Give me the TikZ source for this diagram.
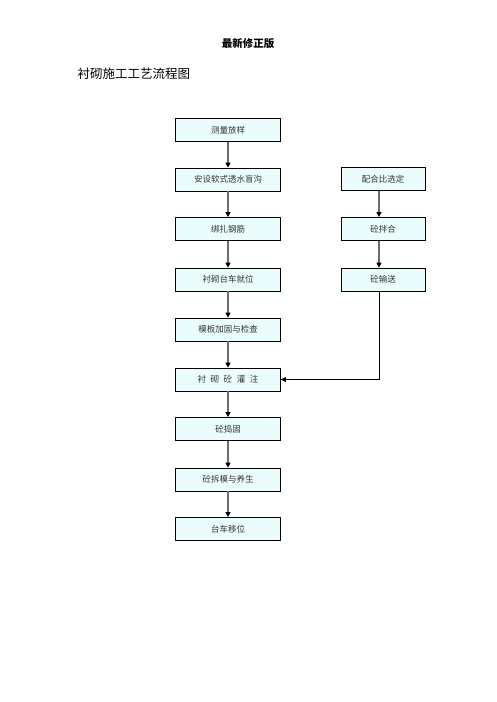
\documentclass[tikz,border=0pt]{standalone}
\usepackage{fontspec}
\setmainfont{Liberation Serif}
\newfontfamily\cjk{Noto Sans CJK SC}
\usetikzlibrary{arrows.meta}
\definecolor{boxfill}{HTML}{EAFCFC}
\definecolor{txtc}{HTML}{333333}
\tikzset{
  stepbox/.style={draw=black, line width=0.8pt, fill=boxfill, minimum width=105pt, minimum height=23pt, inner sep=0pt, font=\cjk\fontsize{8.5}{10}\selectfont, text=txtc},
  sidebox/.style={stepbox, minimum width=84pt},
  flow/.style={draw=gray!85!black, line width=1.4pt, -{Triangle[length=5pt,width=5pt,fill=black,color=black]}},
  flowthin/.style={draw=black, line width=0.7pt, -{Triangle[length=5pt,width=5pt]}}
}
\begin{document}
\begin{tikzpicture}[x=1pt,y=-1pt]
\useasboundingbox (0,0) rectangle (496,702);
\node[font=\cjk\bfseries\fontsize{10.5}{12}\selectfont] (title) at (248,44) {最新修正版};
\node[font=\cjk\fontsize{12.5}{14}\selectfont, anchor=west] (sub) at (74,74) {衬砌施工工艺流程图};
\node[stepbox] (a1) at (228,130) {测量放样};
\node[stepbox] (a2) at (228,179.5) {安设软式透水盲沟};
\node[stepbox] (a3) at (228,229) {绑扎钢筋};
\node[stepbox] (a4) at (228,279.5) {衬砌台车就位};
\node[stepbox] (a5) at (228,329.5) {模板加固与检查};
\node[stepbox] (a6) at (228,379.5) {衬\hspace{4.6pt}砌\hspace{4.6pt}砼\hspace{4.6pt}灌\hspace{4.6pt}注};
\node[stepbox] (a7) at (228,429) {砼捣固};
\node[stepbox] (a8) at (228,479.5) {砼拆模与养生};
\node[stepbox] (a9) at (228,529) {台车移位};
\node[sidebox] (b1) at (383,179) {配合比选定};
\node[sidebox] (b2) at (383,229) {砼拌合};
\node[sidebox] (b3) at (383,279.5) {砼输送};
\foreach \u/\v in {a1/a2,a2/a3,a3/a4,a4/a5,a5/a6,a6/a7,a7/a8,a8/a9}
  \draw[flow] (\u) -- (\v);
\draw[flow] (b1.south -| 379,0) -- (b2.north -| 379,0);
\draw[flow] (b2.south -| 379,0) -- (b3.north -| 379,0);
\draw[flowthin] (b3.south -| 379,0) |- (a6.east);
\end{tikzpicture}
\end{document}
